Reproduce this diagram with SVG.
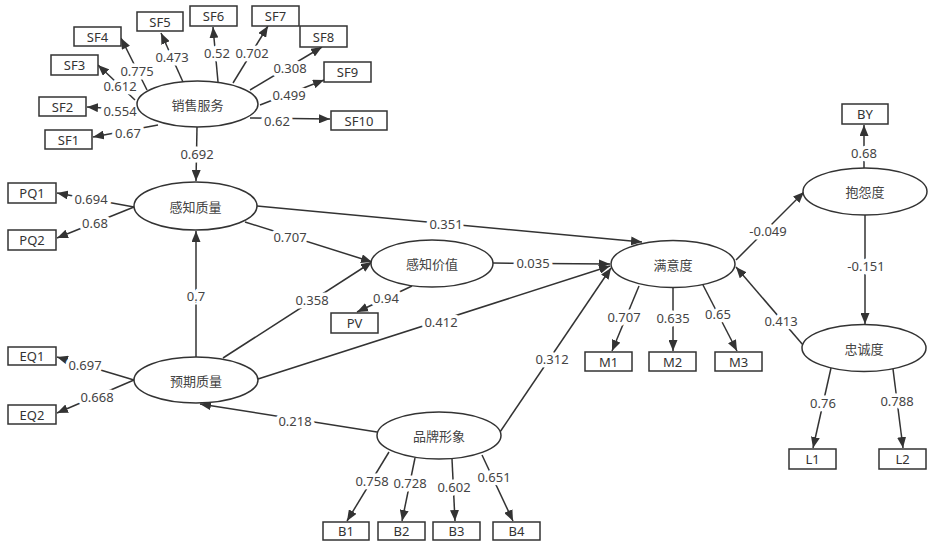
<svg xmlns="http://www.w3.org/2000/svg" width="929" height="548" viewBox="0 0 929 548">
<style>
.bg{fill:#fff}
.box rect{fill:#fff;stroke:#333;stroke-width:1.5}
.box text{font-family:"Noto Sans","Noto Sans CJK SC",sans-serif;font-size:13px;fill:#333;text-anchor:middle;dominant-baseline:central}
.lat ellipse{fill:#fff;stroke:#333;stroke-width:1.5}
.lat text{font-family:"Noto Sans CJK SC","Noto Sans",sans-serif;font-size:13px;fill:#444;text-anchor:middle;dominant-baseline:central}
.edges line{stroke:#333;stroke-width:1.5;marker-end:url(#ah)}
.lbl text{font-family:"Noto Sans","Noto Sans CJK SC",sans-serif;font-size:13px;fill:#444;text-anchor:middle;dominant-baseline:central;stroke:#fff;stroke-width:7;stroke-linejoin:round;paint-order:stroke}
</style>
<defs>
<marker id="ah" markerUnits="userSpaceOnUse" markerWidth="11" markerHeight="9" refX="11" refY="4.5" orient="auto">
<path d="M0,0 L11,4.5 L0,9 z" fill="#333"/>
</marker>
</defs>
<rect class="bg" x="0" y="0" width="929" height="548"/>
<g id="connectors" class="edges">
<line x1="158" y1="125" x2="93" y2="137"/>
<line x1="137" y1="110" x2="87" y2="107"/>
<line x1="135" y1="100" x2="98" y2="65"/>
<line x1="147" y1="90" x2="121" y2="38"/>
<line x1="183" y1="82" x2="161" y2="33"/>
<line x1="218" y1="82" x2="213" y2="27"/>
<line x1="233" y1="83" x2="268" y2="26"/>
<line x1="250" y1="90" x2="322" y2="47"/>
<line x1="260" y1="105" x2="324" y2="80"/>
<line x1="250" y1="118" x2="330" y2="119"/>
<line x1="197" y1="127" x2="196" y2="181"/>
<line x1="134" y1="207" x2="57" y2="193"/>
<line x1="134" y1="207" x2="57" y2="238"/>
<line x1="196" y1="357" x2="196" y2="231"/>
<line x1="257" y1="206" x2="642" y2="242"/>
<line x1="245" y1="222" x2="372" y2="262"/>
<line x1="223" y1="358" x2="372" y2="262"/>
<line x1="412" y1="286" x2="357" y2="312"/>
<line x1="493" y1="263" x2="610" y2="264"/>
<line x1="258" y1="379" x2="610" y2="266"/>
<line x1="134" y1="380" x2="57" y2="357"/>
<line x1="134" y1="380" x2="57" y2="413"/>
<line x1="377" y1="432" x2="200" y2="404"/>
<line x1="500" y1="432" x2="611" y2="268"/>
<line x1="389" y1="452" x2="347" y2="521"/>
<line x1="415" y1="458" x2="402" y2="521"/>
<line x1="452" y1="459" x2="455" y2="521"/>
<line x1="482" y1="455" x2="513" y2="521"/>
<line x1="639" y1="286" x2="612" y2="351"/>
<line x1="673" y1="288" x2="673" y2="351"/>
<line x1="703" y1="285" x2="737" y2="351"/>
<line x1="736" y1="260" x2="804" y2="192"/>
<line x1="864" y1="168" x2="864" y2="125"/>
<line x1="865" y1="215" x2="865" y2="324"/>
<line x1="803" y1="345" x2="736" y2="267"/>
<line x1="831" y1="368" x2="813" y2="448"/>
<line x1="893" y1="369" x2="903" y2="448"/>
</g>
<g id="edge-labels" class="lbl">
<text x="128" y="133">0.67</text>
<text x="120" y="111">0.554</text>
<text x="120" y="86">0.612</text>
<text x="137" y="71">0.775</text>
<text x="172" y="57">0.473</text>
<text x="217" y="53">0.52</text>
<text x="252" y="53">0.702</text>
<text x="290" y="68">0.308</text>
<text x="289" y="95">0.499</text>
<text x="277" y="121">0.62</text>
<text x="197" y="154">0.692</text>
<text x="91" y="199">0.694</text>
<text x="95" y="223">0.68</text>
<text x="196" y="296">0.7</text>
<text x="446" y="224">0.351</text>
<text x="290" y="237">0.707</text>
<text x="312" y="300">0.358</text>
<text x="386" y="298">0.94</text>
<text x="533" y="263">0.035</text>
<text x="441" y="322">0.412</text>
<text x="85" y="365">0.697</text>
<text x="97" y="397">0.668</text>
<text x="295" y="421">0.218</text>
<text x="552" y="359">0.312</text>
<text x="372" y="481">0.758</text>
<text x="410" y="483">0.728</text>
<text x="454" y="487">0.602</text>
<text x="494" y="477">0.651</text>
<text x="624" y="317">0.707</text>
<text x="673" y="318">0.635</text>
<text x="718" y="314">0.65</text>
<text x="768" y="231">-0.049</text>
<text x="864" y="153">0.68</text>
<text x="866" y="266">-0.151</text>
<text x="781" y="321">0.413</text>
<text x="823" y="403">0.76</text>
<text x="897" y="401">0.788</text>
</g>
<g id="n-xsfw" class="lat"><ellipse cx="197.5" cy="104" rx="60.5" ry="23"/><text x="197.5" y="104">销售服务</text></g>
<g id="n-gzzl" class="lat"><ellipse cx="195.5" cy="206" rx="61.5" ry="24"/><text x="195.5" y="206">感知质量</text></g>
<g id="n-gzjz" class="lat"><ellipse cx="432" cy="263.5" rx="61" ry="23.5"/><text x="432" y="263.5">感知价值</text></g>
<g id="n-yqzl" class="lat"><ellipse cx="196" cy="380" rx="62" ry="23"/><text x="196" y="380">预期质量</text></g>
<g id="n-ppxx" class="lat"><ellipse cx="439" cy="435.5" rx="62" ry="23.5"/><text x="439" y="435.5">品牌形象</text></g>
<g id="n-myd" class="lat"><ellipse cx="673" cy="264" rx="62" ry="23.5"/><text x="673" y="264">满意度</text></g>
<g id="n-byd" class="lat"><ellipse cx="865" cy="191.5" rx="62" ry="23.5"/><text x="865" y="191.5">抱怨度</text></g>
<g id="n-zcd" class="lat"><ellipse cx="864" cy="348" rx="62" ry="23.5"/><text x="864" y="348">忠诚度</text></g>
<g id="n-SF1" class="box"><rect x="45" y="130" width="47" height="19"/><text x="68.5" y="139.5">SF1</text></g>
<g id="n-SF2" class="box"><rect x="39" y="97" width="47" height="19"/><text x="62.5" y="106.5">SF2</text></g>
<g id="n-SF3" class="box"><rect x="51" y="55" width="47" height="20"/><text x="74.5" y="65">SF3</text></g>
<g id="n-SF4" class="box"><rect x="74" y="27" width="47" height="19"/><text x="97.5" y="36.5">SF4</text></g>
<g id="n-SF5" class="box"><rect x="137" y="12" width="46" height="19"/><text x="160" y="21.5">SF5</text></g>
<g id="n-SF6" class="box"><rect x="190" y="6" width="47" height="20"/><text x="213.5" y="16">SF6</text></g>
<g id="n-SF7" class="box"><rect x="252" y="6" width="47" height="20"/><text x="275.5" y="16">SF7</text></g>
<g id="n-SF8" class="box"><rect x="300" y="26" width="47" height="21"/><text x="323.5" y="36.5">SF8</text></g>
<g id="n-SF9" class="box"><rect x="324" y="62" width="47" height="20"/><text x="347.5" y="72">SF9</text></g>
<g id="n-SF10" class="box"><rect x="331" y="111" width="56" height="19"/><text x="359" y="120.5">SF10</text></g>
<g id="n-PQ1" class="box"><rect x="8" y="183" width="48" height="20"/><text x="32" y="193">PQ1</text></g>
<g id="n-PQ2" class="box"><rect x="8" y="230" width="48" height="20"/><text x="32" y="240">PQ2</text></g>
<g id="n-EQ1" class="box"><rect x="8" y="347" width="48" height="18"/><text x="32" y="356">EQ1</text></g>
<g id="n-EQ2" class="box"><rect x="8" y="405" width="48" height="19"/><text x="32" y="414.5">EQ2</text></g>
<g id="n-PV" class="box"><rect x="331" y="313" width="47" height="20"/><text x="354.5" y="323">PV</text></g>
<g id="n-B1" class="box"><rect x="323" y="522" width="46" height="18"/><text x="346" y="531">B1</text></g>
<g id="n-B2" class="box"><rect x="378" y="522" width="47" height="18"/><text x="401.5" y="531">B2</text></g>
<g id="n-B3" class="box"><rect x="433" y="522" width="47" height="18"/><text x="456.5" y="531">B3</text></g>
<g id="n-B4" class="box"><rect x="493" y="522" width="47" height="18"/><text x="516.5" y="531">B4</text></g>
<g id="n-M1" class="box"><rect x="585" y="352" width="47" height="19"/><text x="608.5" y="361.5">M1</text></g>
<g id="n-M2" class="box"><rect x="649" y="352" width="47" height="19"/><text x="672.5" y="361.5">M2</text></g>
<g id="n-M3" class="box"><rect x="715" y="352" width="47" height="19"/><text x="738.5" y="361.5">M3</text></g>
<g id="n-BY" class="box"><rect x="842" y="104" width="46" height="20"/><text x="865" y="114">BY</text></g>
<g id="n-L1" class="box"><rect x="789" y="449" width="47" height="20"/><text x="812.5" y="459">L1</text></g>
<g id="n-L2" class="box"><rect x="879" y="449" width="47" height="20"/><text x="902.5" y="459">L2</text></g>
</svg>
